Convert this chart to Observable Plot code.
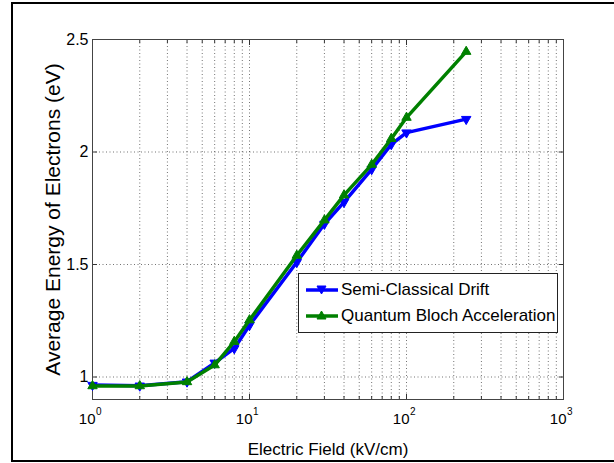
<!DOCTYPE html>
<html>
<head>
<meta charset="utf-8">
<script src="https://cdn.jsdelivr.net/npm/d3@7"></script>
<script src="https://cdn.jsdelivr.net/npm/@observablehq/plot@0.6"></script>
<style>
  html, body { margin: 0; padding: 0; background: #fff; overflow: hidden; }
  #wrap { position: relative; width: 614px; height: 463px; overflow: hidden; font-family: "Liberation Sans", Arial, Helvetica, sans-serif; }
  #chart svg { display: block; }
  #frame { position: absolute; left: 11px; top: 2px; width: 640px; height: 456px; border-left: 2px solid #000; border-top: 2px solid #000; border-bottom: 2px solid #000; pointer-events: none; }
  #legend { position: absolute; left: 298px; top: 273px; width: 260px; height: 60px; border: 1px solid #222; background: #fff; box-sizing: border-box; }
  .row { position: absolute; left: 6px; height: 20px; display: flex; align-items: center; font-size: 17px; color: #000; white-space: nowrap; }
  .row svg { margin-right: 2px; }
</style>
</head>
<body>
<div id="wrap">
  <div id="chart"></div>
  <div id="legend"></div>
  <div id="frame"></div>
</div>
<script>
// ---- data ----
const field = [1, 2, 4, 6, 8, 10, 20, 30, 40, 60, 80, 100, 240];
const semiClassical = [0.964, 0.961, 0.979, 1.063, 1.127, 1.23, 1.51, 1.68, 1.777, 1.923, 2.034, 2.086, 2.146];
const quantumBloch = [0.96, 0.96, 0.978, 1.053, 1.157, 1.253, 1.54, 1.697, 1.808, 1.944, 2.059, 2.153, 2.446];
const seriesNames = ["Semi-Classical Drift", "Quantum Bloch Acceleration"];
const seriesColors = ["#0000ff", "#008000"];

const xMajorTicks = [1, 10, 100, 1000];
const xTickBase = "10";
const xTickExp = ["0", "1", "2", "3"];
const xMinorTicks = [2, 3, 4, 5, 6, 7, 8, 9, 20, 30, 40, 50, 60, 70, 80, 90, 200, 300, 400, 500, 600, 700, 800, 900];
const xGridTicks = [2, 3, 4, 5, 6, 7, 8, 9, 10, 20, 30, 40, 50, 60, 70, 80, 90, 100, 200, 300, 400, 500, 600, 700, 800, 900];
const yTicks = [1, 1.5, 2, 2.5];
const yTickLabels = ["1", "1.5", "2", "2.5"];
const yGridTicks = [1, 1.5, 2];
const xTitle = "Electric Field (kV/cm)";
const yTitle = "Average Energy of Electrons (eV)";

const blue = field.map((x, i) => ({x, y: semiClassical[i]}));
const green = field.map((x, i) => ({x, y: quantumBloch[i]}));

const gridStyle = {stroke: "#000", strokeOpacity: 0.55, strokeDasharray: "1,2.5", strokeWidth: 1};

const chart = Plot.plot({
  width: 614,
  height: 463,
  marginLeft: 92,
  marginRight: 51,
  marginTop: 39,
  marginBottom: 64,
  style: {fontFamily: "'Liberation Sans', Arial, Helvetica, sans-serif", background: "transparent", color: "#000", overflow: "visible"},
  x: {type: "log", domain: [1, 1000]},
  y: {domain: [0.9, 2.5]},
  marks: [
    Plot.gridX(xGridTicks, gridStyle),
    Plot.gridY(yGridTicks, gridStyle),
    Plot.axisX({anchor: "bottom", ticks: xMajorTicks, tickSize: -5, tickFormat: () => "", label: null, stroke: "#333"}),
    Plot.axisX({anchor: "bottom", ticks: xMinorTicks, tickSize: -3, tickFormat: () => "", label: null, stroke: "#333"}),
    Plot.axisX({anchor: "top", ticks: xMajorTicks, tickSize: -5, tickFormat: () => "", label: null, stroke: "#333"}),
    Plot.axisX({anchor: "top", ticks: xMinorTicks, tickSize: -3, tickFormat: () => "", label: null, stroke: "#333"}),
    Plot.axisY({anchor: "left", ticks: yTicks, tickSize: -5, tickFormat: () => "", label: null, stroke: "#333"}),
    Plot.axisY({anchor: "right", ticks: yTicks, tickSize: -5, tickFormat: () => "", label: null, stroke: "#333"}),
    Plot.axisY({anchor: "left", ticks: yTicks, tickSize: 0, tickPadding: 4, fontSize: 16,
      tickFormat: d => yTickLabels[yTicks.indexOf(d)], label: null}),
    Plot.text(xMajorTicks, {x: d => d, frameAnchor: "bottom", text: () => xTickBase, textAnchor: "end",
      lineAnchor: "bottom", dx: 3, dy: 24, fontSize: 15}),
    Plot.text(xMajorTicks, {x: d => d, frameAnchor: "bottom", text: (d, i) => xTickExp[i], textAnchor: "start",
      lineAnchor: "bottom", dx: 3.5, dy: 15, fontSize: 10}),
    Plot.text([xTitle], {frameAnchor: "bottom", text: d => d, textAnchor: "middle", lineAnchor: "bottom", dy: 55, fontSize: 17}),
    Plot.text([yTitle], {frameAnchor: "left", text: d => d, textAnchor: "middle", rotate: -90, lineAnchor: "middle", dx: -39, fontSize: 21}),
    Plot.frame({stroke: "#444", strokeWidth: 1}),
    Plot.line(blue, {x: "x", y: "y", stroke: seriesColors[0], strokeWidth: 3.5}),
    Plot.dot(blue, {x: "x", y: "y", symbol: "triangle", rotate: 180, r: 3.5, fill: seriesColors[0], stroke: seriesColors[0], strokeWidth: 1}),
    Plot.line(green, {x: "x", y: "y", stroke: seriesColors[1], strokeWidth: 3.5}),
    Plot.dot(green, {x: "x", y: "y", symbol: "triangle", r: 3.5, fill: seriesColors[1], stroke: seriesColors[1], strokeWidth: 1})
  ]
});
document.getElementById("chart").appendChild(chart);

// ---- legend ----
const legend = document.getElementById("legend");
const rowTops = [6, 32];
seriesNames.forEach((name, i) => {
  const row = document.createElement("div");
  row.className = "row";
  row.style.top = rowTops[i] + "px";
  const pts = i === 0 ? "16.5,14 12,6 21,6" : "16.5,5 12,13 21,13";
  row.innerHTML = `<svg width="34" height="20"><line x1="1" y1="10" x2="33" y2="10" stroke="${seriesColors[i]}" stroke-width="3.5"/>` +
    `<polygon points="${pts}" fill="${seriesColors[i]}" stroke="${seriesColors[i]}"/></svg><span>${name}</span>`;
  legend.appendChild(row);
});
</script>
</body>
</html>
